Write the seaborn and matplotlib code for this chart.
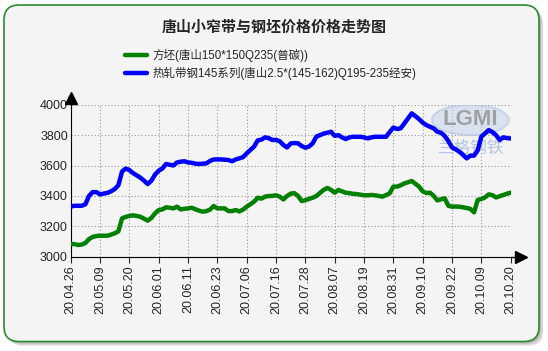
import matplotlib
matplotlib.use("Agg")
import matplotlib.pyplot as plt
import seaborn as sns
import pandas as pd
from matplotlib.patches import FancyBboxPatch, Ellipse
from matplotlib.transforms import IdentityTransform

sns.set_style("ticks")
plt.rcParams["font.family"] = ["Liberation Sans", "Noto Sans CJK SC", "DejaVu Sans"]

# %%
title = "唐山小窄带与钢坯价格价格走势图"
billet_label = "方坯(唐山150*150Q235(普碳))"
strip_label = "热轧带钢145系列(唐山2.5*(145-162)Q195-235经安)"

tick_labels = ["20.04.26", "20.05.09", "20.05.20", "20.06.01", "20.06.11", "20.06.23",
               "20.07.06", "20.07.16", "20.07.28", "20.08.07", "20.08.19", "20.08.31",
               "20.09.10", "20.09.22", "20.10.09", "20.10.20"]

strip = [3330, 3335, 3335, 3335, 3345, 3400, 3425, 3425, 3410, 3415,
         3420, 3430, 3445, 3470, 3560, 3580, 3570, 3550, 3535, 3520,
         3500, 3478, 3500, 3540, 3566, 3580, 3610, 3605, 3600, 3620,
         3625, 3628, 3620, 3618, 3612, 3610, 3612, 3614, 3630, 3640,
         3640, 3640, 3638, 3636, 3628, 3640, 3647, 3655, 3680, 3702,
         3724, 3765, 3770, 3785, 3780, 3768, 3768, 3760, 3735, 3719,
         3745, 3748, 3746, 3728, 3717, 3725, 3746, 3790, 3800, 3810,
         3816, 3822, 3795, 3800, 3785, 3774, 3785, 3789, 3789, 3789,
         3785, 3778, 3785, 3789, 3789, 3789, 3789, 3820, 3850, 3840,
         3845, 3877, 3910, 3943, 3925, 3905, 3882, 3866, 3855, 3844,
         3822, 3815, 3795, 3760, 3719, 3706, 3691, 3670, 3647, 3665,
         3665, 3700, 3790, 3811, 3833, 3820, 3800, 3768, 3785, 3780,
         3778]

billet = [3083, 3083, 3077, 3080, 3090, 3116, 3130, 3136, 3138, 3138,
          3138, 3145, 3154, 3167, 3252, 3262, 3268, 3272, 3268, 3263,
          3250, 3237, 3255, 3285, 3307, 3311, 3325, 3322, 3318, 3329,
          3311, 3315, 3318, 3322, 3312, 3303, 3296, 3300, 3310, 3333,
          3318, 3318, 3318, 3300, 3300, 3307, 3298, 3310, 3329, 3345,
          3362, 3388, 3382, 3395, 3399, 3400, 3404, 3395, 3377, 3399,
          3415, 3418, 3400, 3366, 3372, 3380, 3388, 3399, 3420, 3440,
          3452, 3440, 3421, 3439, 3430, 3421, 3418, 3414, 3412, 3408,
          3404, 3404, 3406, 3404, 3400, 3395, 3405, 3417, 3461, 3461,
          3470, 3482, 3490, 3498, 3480, 3461, 3430, 3419, 3421, 3400,
          3370, 3378, 3384, 3335, 3329, 3330, 3329, 3325, 3320, 3315,
          3292, 3373, 3380, 3390, 3410, 3405, 3390, 3398, 3406, 3415,
          3421]

df = pd.DataFrame({"idx": range(len(strip)), "strip": strip, "billet": billet})

# %%
W, H = 548, 351
fig = plt.figure(figsize=(W / 100, H / 100), dpi=100)
fig.patch.set_facecolor("white")

# rounded panel with shadow
for off, col, a in [(4, "#b0b0b0", 0.5), (2, "#909090", 0.5)]:
    fig.add_artist(FancyBboxPatch((4 + off, 9.5 - off), 535, 336.5,
                                  boxstyle="round,pad=0,rounding_size=15",
                                  transform=IdentityTransform(), facecolor=col,
                                  edgecolor="none", alpha=a, zorder=0))
fig.add_artist(FancyBboxPatch((4, 9.5), 535, 336.5,
                              boxstyle="round,pad=0,rounding_size=15",
                              transform=IdentityTransform(), facecolor="#f4f4f4",
                              edgecolor="#2e8b2e", linewidth=1.2, zorder=0))

ax = fig.add_axes([70.7 / W, 1 - 256.7 / H, 440 / W, 152 / H])
ax.set_facecolor("none")

# watermark
ax.add_patch(Ellipse((109, 3900), 21, 200, facecolor="#c4d2ec", alpha=0.5,
                     edgecolor="#a8bde0", lw=1.5, zorder=1))
ax.text(109, 3900, "LGMI", fontsize=16, fontweight="bold", color="#8a8a8a",
        alpha=0.75, ha="center", va="center", zorder=1)
ax.text(109, 3715, "兰格钢铁", fontsize=12, color="#a8bde0", alpha=0.85,
        ha="center", va="center", zorder=1)

sns.lineplot(data=df, x="idx", y="billet", ax=ax, color="#008000", lw=3.2,
             label=billet_label, zorder=3)
sns.lineplot(data=df, x="idx", y="strip", ax=ax, color="#0000ff", lw=3.2,
             label=strip_label, zorder=3)

ax.set_xlim(0, 120)
ax.set_ylim(3000, 4000)
ax.set_xlabel("")
ax.set_ylabel("")
ax.set_xticks(range(0, 121, 8))
ax.set_xticklabels(tick_labels, rotation=90, fontsize=9)
ax.set_yticks(range(3000, 4001, 200))
ax.tick_params(axis="y", length=0, pad=2, labelsize=9)
ax.tick_params(axis="x", length=4, pad=2, width=0.8)
ax.grid(True, linestyle=(0, (1, 2)), color="#999999", lw=0.8)

sns.despine(ax=ax)
ax.spines["left"].set_color("black")
ax.spines["bottom"].set_color("black")

# axis arrows
ax.plot([0, 0], [1, 1.04], transform=ax.transAxes, color="black", lw=1, clip_on=False)
ax.plot([1, 1.015], [0, 0], transform=ax.transAxes, color="black", lw=1, clip_on=False)
ax.plot([0], [1.045], marker="^", ms=8, color="black", transform=ax.transAxes, clip_on=False)
ax.plot([1.023], [0], marker=">", ms=8, color="black", transform=ax.transAxes, clip_on=False)

ax.legend(loc="upper left", bbox_to_anchor=(125 / W, 1 - 49 / H),
          bbox_transform=fig.transFigure, frameon=False, fontsize=8.3,
          handlelength=1.95, handletextpad=0.45, labelspacing=0.4,
          borderpad=0, borderaxespad=0)

fig.text(0.5, 1 - 28 / H, title, ha="center", va="center", fontsize=10.8,
         fontweight="bold")

fig.savefig("out.png", dpi=100)
